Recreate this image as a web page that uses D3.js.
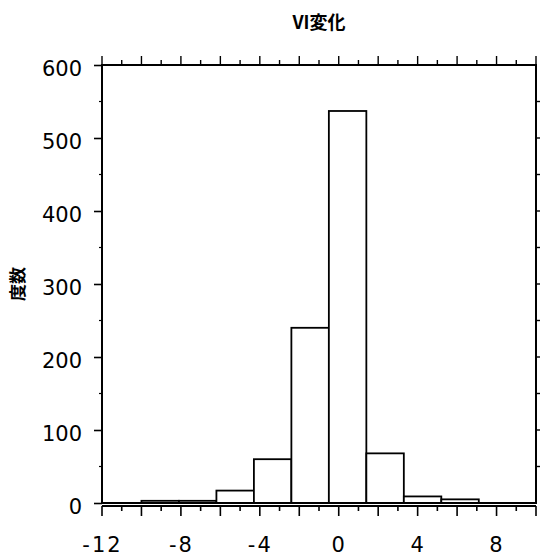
<!DOCTYPE html>
<html>
<head>
<meta charset="utf-8">
<script src="https://cdn.jsdelivr.net/npm/d3@7"></script>
<style>
  html, body { margin: 0; padding: 0; background: #fff; }
  svg { display: block; }
</style>
</head>
<body>
<script>
// ---- data ----
const binEdges = [-10, -8.1, -6.2, -4.3, -2.4, -0.5, 1.4, 3.3, 5.2, 7.1];
const counts = [3, 3, 17, 60, 240, 537, 68, 9, 5];
const xTickLabels = [-12, -8, -4, 0, 4, 8];
const yTickLabels = [0, 100, 200, 300, 400, 500, 600];
const titleText = "VI変化";
const yAxisTitle = "度数";

// ---- layout ----
const W = 543, H = 558;
const mLeft = 102, mRight = 536, mTop = 65, mBottom = 503;
const xAxisY = 506;
const fontFamily = "'DejaVu Sans', Verdana, sans-serif";
const cjkFont = "'Noto Sans CJK JP', 'Noto Sans CJK SC', sans-serif";

const svg = d3.select("body").append("svg")
  .attr("width", W).attr("height", H)
  .style("background", "#fff");

const x = d3.scaleLinear().domain([-12, 10]).range([mLeft, mRight]);
const y = d3.scaleLinear().domain([0, 600]).range([mBottom, mTop]);

const bins = counts.map((c, i) => ({ x0: binEdges[i], x1: binEdges[i + 1], count: c }));

// bars
svg.append("g").selectAll("rect").data(bins).join("rect")
  .attr("x", d => x(d.x0))
  .attr("y", d => y(d.count))
  .attr("width", d => x(d.x1) - x(d.x0))
  .attr("height", d => y(0) - y(d.count))
  .attr("fill", "#fff")
  .attr("stroke", "#000")
  .attr("stroke-width", 1.8);

// frame
svg.append("rect")
  .attr("x", mLeft).attr("y", mTop)
  .attr("width", mRight - mLeft).attr("height", mBottom - mTop)
  .attr("fill", "none").attr("stroke", "#000").attr("stroke-width", 2);

const unitTicks = d3.range(-12, 11, 1);

// bottom axis line with unit ticks
const bottomAxis = svg.append("g").attr("transform", `translate(0,${xAxisY})`);
bottomAxis.append("line")
  .attr("x1", mLeft).attr("x2", mRight).attr("y1", 0).attr("y2", 0)
  .attr("stroke", "#000").attr("stroke-width", 2);
bottomAxis.selectAll("line.tk").data(unitTicks).join("line")
  .attr("class", "tk")
  .attr("x1", d => x(d)).attr("x2", d => x(d))
  .attr("y1", 0).attr("y2", d => (d % 2 === 0 ? 10 : 5))
  .attr("stroke", "#000").attr("stroke-width", 1.6);

// bottom labels via d3 axis
const xLabAxis = d3.axisBottom(x).tickValues(xTickLabels).tickSize(0).tickPadding(0)
  .tickFormat(d => String(d));
const gxl = svg.append("g").attr("transform", `translate(0,${xAxisY + 31})`).call(xLabAxis);
gxl.select(".domain").remove();
gxl.selectAll("text")
  .attr("font-family", fontFamily).attr("font-size", 21).attr("fill", "#000")
  .attr("letter-spacing", 2)
  .attr("dy", "0.72em").attr("y", 0);

// top ticks
svg.append("g").selectAll("line").data(unitTicks).join("line")
  .attr("x1", d => x(d)).attr("x2", d => x(d))
  .attr("y1", mTop).attr("y2", d => mTop - (d % 2 === 0 ? 9 : 5))
  .attr("stroke", "#000").attr("stroke-width", 1.4);

// left axis
const yAxis = d3.axisLeft(y).tickValues(yTickLabels).tickSize(8).tickPadding(12);
const gy = svg.append("g").attr("transform", `translate(${mLeft},0)`).call(yAxis);
gy.select(".domain").remove();
gy.selectAll("line").attr("stroke", "#000").attr("stroke-width", 1.6);
gy.selectAll("text")
  .attr("font-family", fontFamily).attr("font-size", 21).attr("fill", "#000")
  .attr("dy", "0.5em");

// left minor ticks
svg.append("g").selectAll("line").data(d3.range(50, 600, 100)).join("line")
  .attr("x1", mLeft).attr("x2", mLeft - 3)
  .attr("y1", d => y(d)).attr("y2", d => y(d))
  .attr("stroke", "#000").attr("stroke-width", 1.2);

// right ticks
svg.append("g").selectAll("line").data(d3.range(50, 600, 50)).join("line")
  .attr("x1", mRight).attr("x2", mRight + 4)
  .attr("y1", d => y(d)).attr("y2", d => y(d))
  .attr("stroke", "#000").attr("stroke-width", 1.4);

// title
svg.append("text")
  .attr("x", (mLeft + mRight) / 2).attr("y", 29)
  .attr("text-anchor", "middle")
  .attr("font-family", cjkFont)
  .attr("font-weight", "bold").attr("font-size", 18)
  .attr("fill", "#000")
  .text(titleText);

// y-axis title
svg.append("text")
  .attr("transform", `translate(24,${(mTop + mBottom) / 2}) rotate(-90)`)
  .attr("text-anchor", "middle")
  .attr("font-family", cjkFont)
  .attr("font-weight", "bold").attr("font-size", 17)
  .attr("fill", "#000")
  .text(yAxisTitle);
</script>
</body>
</html>
